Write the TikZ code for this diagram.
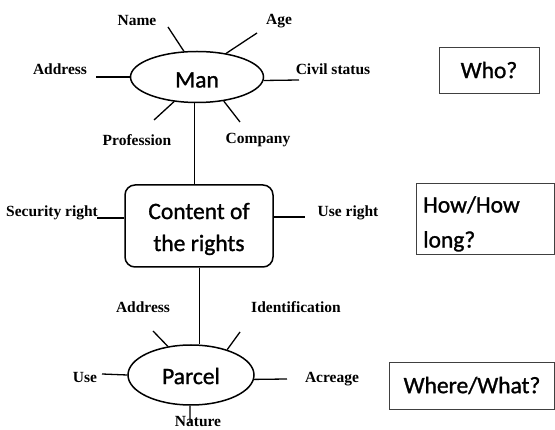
\documentclass[tikz,border=0pt]{standalone}
\usepackage{fontspec}
\setmainfont{Liberation Serif}
\newfontfamily\headfont[FakeBold=1.2]{Carlito}
\usetikzlibrary{shapes.geometric}
\begin{document}
\begin{tikzpicture}[x=1pt,y=-1pt,
  attr/.style={font=\bfseries\fontsize{15.5}{18}\selectfont, inner sep=0pt},
  spoke/.style={line width=1.3pt},
  link/.style={line width=1pt},
  entity/.style={ellipse, draw, line width=1.5pt, inner sep=0pt},
  headtext/.style={font=\headfont\fontsize{23.5}{28}\selectfont},
  question/.style={draw=black!75, line width=0.9pt, font=\headfont\fontsize{23.5}{28}\selectfont}
]
\useasboundingbox (0,0) rectangle (555,430);

% ---- Man and its attributes
\node[entity, minimum width=133pt, minimum height=51pt] (man) at (197,77) {};
\node[headtext] (mantext) at (197,80) {Man};

\node[attr] (name) at (137,21) {Name};
\node[attr] (age) at (279,21) {Age};
\node[attr] (maddr) at (60,69) {Address};
\node[attr] (civil) at (333,69) {Civil status};
\node[attr] (prof) at (137,140) {Profession};
\node[attr] (comp) at (258,140) {Company};

\coordinate (nameE) at (168,27);
\coordinate (ageE) at (257,33);
\coordinate (maddrE) at (96,77);
\coordinate (civilE) at (299,80);
\coordinate (profE) at (154,120);
\coordinate (compE) at (240,122);

\draw[spoke] (man.117) -- (nameE);
\draw[spoke] (man.39) -- (ageE);
\draw[spoke] (man.180) -- (maddrE);
\draw[spoke] (man.357) -- (civilE);
\draw[spoke] (man.227) -- (profE);
\draw[spoke] (man.318) -- (compE);

% ---- Content of the rights
\node[draw, line width=1.5pt, rounded corners=10pt, minimum width=148pt,
  minimum height=82pt, inner sep=0pt] (rights) at (199,226) {};
\node[font=\headfont\fontsize{23.5}{32}\selectfont, align=center] (rightstext)
  at (199,229) {Content of\\the rights};

\node[attr] (secu) at (52,213) {Security right};
\node[attr] (user) at (348,213) {Use right};
\coordinate (secuE) at (97,218);
\coordinate (userE) at (305,217);
\draw[spoke] (rights.west |- secuE) -- (secuE);
\draw[spoke] (rights.east |- userE) -- (userE);

\draw[link] ([xshift=-3pt]man.south) -- ([xshift=-5pt]rights.north);

% ---- Parcel and its attributes
\node[entity, minimum width=126pt, minimum height=60pt] (parcel) at (191,375) {};
\node[headtext] (parceltext) at (191,376) {Parcel};

\draw[link] (rights.south) -- (parcel.north -| rights.south);

\node[attr] (paddr) at (143,307) {Address};
\node[attr] (ident) at (296,307) {Identification};
\node[attr] (use) at (85,378) {Use};
\node[attr] (acre) at (332,379) {Acreage};
\node[attr, anchor=base] (nature) at (198,427) {Nature};

\coordinate (paddrE) at (153,331);
\coordinate (identE) at (240,332);
\coordinate (useE) at (102,374);
\coordinate (acreE) at (287,379);
\coordinate (natureE) at (190,423);

\draw[spoke] (parcel.129) -- (paddrE);
\draw[spoke] (parcel.35.5) -- (identE);
\draw[spoke] (parcel.180) -- (useE);
\draw[spoke] (parcel.356) -- (acreE);
\draw[spoke] (parcel.268) -- (natureE);

% ---- Questions on the right
\node[question, minimum width=100pt, minimum height=46pt] (who) at (489,70) {Who?};

\draw[draw=black!75, line width=0.9pt] (416,183) rectangle (554,254);
\coordinate (howNW) at (416,183);
\begin{scope}
  \clip (416,183) rectangle (554,254);
  \node[font=\headfont\fontsize{23.5}{35}\selectfont, align=left, anchor=north west,
    inner sep=0pt] (how) at (423,196) {How/How\\long?};
\end{scope}

\node[question, minimum width=165pt, minimum height=47pt] (where) at (472,385.5) {Where/What?};
\end{tikzpicture}
\end{document}
